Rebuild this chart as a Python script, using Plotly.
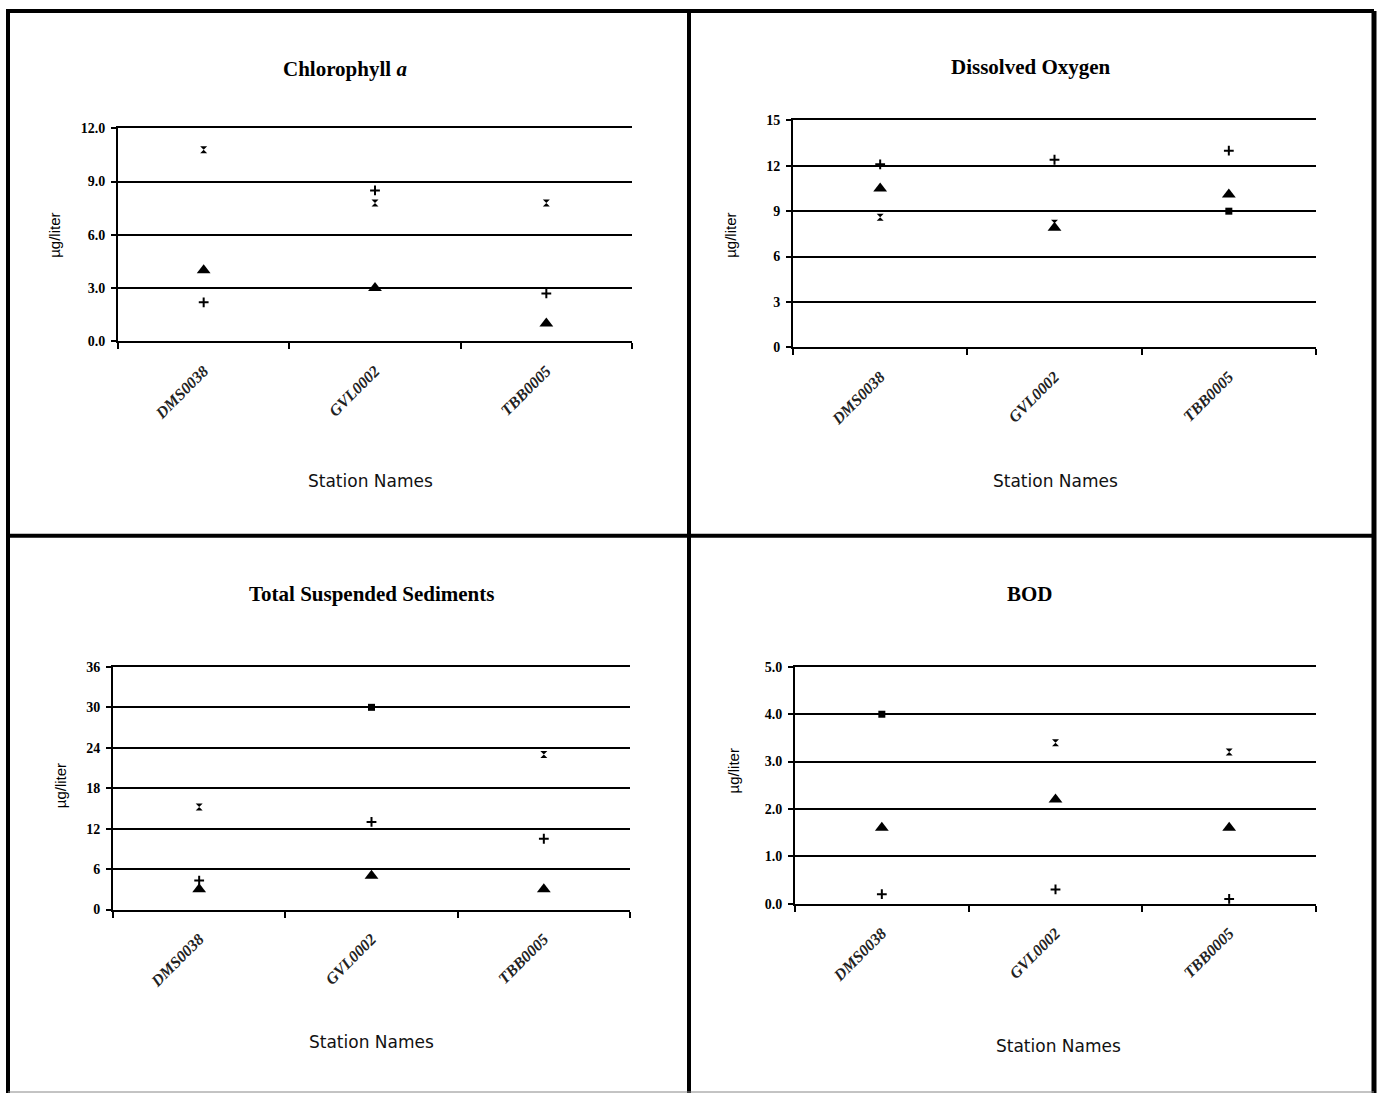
import plotly.graph_objects as go

W, H = 1377, 1101

stations = ["DMS0038", "GVL0002", "TBB0005"]

# Chlorophyll a
chl_plus = [2.2, 8.5, 2.7]
chl_x = [10.8, 7.8, 7.8]
chl_tri = [4.0, 3.0, 1.0]
chl_sq = [None, None, None]
chl_ticks = [0, 3, 6, 9, 12]
chl_ticktext = ["0.0", "3.0", "6.0", "9.0", "12.0"]

# Dissolved Oxygen
do_plus = [12.1, 12.4, 13.0]
do_x = [8.6, 8.2, None]
do_tri = [10.5, 7.9, 10.1]
do_sq = [None, None, 9.0]
do_ticks = [0, 3, 6, 9, 12, 15]
do_ticktext = ["0", "3", "6", "9", "12", "15"]

# Total Suspended Sediments
tss_plus = [4.3, 13.0, 10.5]
tss_x = [15.2, None, 23.0]
tss_tri = [3.0, 5.0, 3.0]
tss_sq = [None, 30.0, None]
tss_ticks = [0, 6, 12, 18, 24, 30, 36]
tss_ticktext = ["0", "6", "12", "18", "24", "30", "36"]

# BOD
bod_plus = [0.2, 0.3, 0.1]
bod_x = [None, 3.4, 3.2]
bod_tri = [1.6, 2.2, 1.6]
bod_sq = [4.0, None, None]
bod_ticks = [0, 1, 2, 3, 4, 5]
bod_ticktext = ["0.0", "1.0", "2.0", "3.0", "4.0", "5.0"]

titles = ["Chlorophyll <i>a</i>", "Dissolved Oxygen", "Total Suspended Sediments", "BOD"]
y_title = "µg/liter"
x_title = "Station Names"


def px(x):
    return x / W


def py(y):
    return 1 - y / H


panels = [
    dict(data=(chl_plus, chl_x, chl_tri, chl_sq), ticks=chl_ticks, ticktext=chl_ticktext,
         box=(118, 632, 123, 339), title_xy=(345, 63), ytitle_xy=(55, 232), xtitle_xy=(370, 481)),
    dict(data=(do_plus, do_x, do_tri, do_sq), ticks=do_ticks, ticktext=do_ticktext,
         box=(793, 1316, 115, 345), title_xy=(1031, 61), ytitle_xy=(731, 232), xtitle_xy=(1055, 481)),
    dict(data=(tss_plus, tss_x, tss_tri, tss_sq), ticks=tss_ticks, ticktext=tss_ticktext,
         box=(113, 630, 669, 915), title_xy=(371, 595), ytitle_xy=(60, 790), xtitle_xy=(371, 1049)),
    dict(data=(bod_plus, bod_x, bod_tri, bod_sq), ticks=bod_ticks, ticktext=bod_ticktext,
         box=(795, 1316, 669, 909), title_xy=(1030, 595), ytitle_xy=(733, 775), xtitle_xy=(1058, 1053)),
]

marker_styles = [
    dict(symbol="cross-thin", size=7, line=dict(color="black", width=2), color="black"),
    dict(symbol="hourglass", size=7, color="black", line=dict(width=0)),
    dict(symbol="triangle-up", size=12, color="black", line=dict(width=0)),
    dict(symbol="square", size=7, color="black", line=dict(width=0)),
]

fig = go.Figure()
layout = dict(
    width=W, height=H, margin=dict(l=0, r=0, t=0, b=0),
    paper_bgcolor="white", plot_bgcolor="white", showlegend=False,
    annotations=[], shapes=[],
)

for i, p in enumerate(panels):
    n = "" if i == 0 else str(i + 1)
    xa, ya = "x" + n, "y" + n
    for vals, ms in zip(p["data"], marker_styles):
        fig.add_trace(go.Scatter(x=stations, y=vals, mode="markers", marker=ms,
                                 xaxis=xa, yaxis=ya, cliponaxis=False, hoverinfo="skip"))
    x0, x1, y0, y1 = p["box"]
    layout["xaxis" + n] = dict(
        domain=[px(x0), px(x1)], anchor=ya, type="category", range=[-0.5, 2.5],
        tickson="boundaries", ticks="outside", ticklen=6, tickwidth=2, tickcolor="black",
        showline=True, mirror=True, linecolor="black", linewidth=2, showgrid=False, zeroline=False,
        tickangle=-45, ticklabelstandoff=12,
        tickfont=dict(family="Liberation Serif", size=16, color="#222", style="italic", weight="bold"),
    )
    layout["yaxis" + n] = dict(
        domain=[py(y1), py(y0)], anchor=xa, range=[p["ticks"][0], p["ticks"][-1]],
        tickvals=p["ticks"], ticktext=p["ticktext"], ticks="outside", ticklen=5, tickwidth=2,
        tickcolor="black", showline=True, linecolor="black", linewidth=2,
        showgrid=True, gridcolor="black", gridwidth=2, zeroline=False, ticklabelstandoff=3,
        tickfont=dict(family="Liberation Serif", size=14, color="black", weight="bold"),
    )
    tx, ty = p["title_xy"]
    layout["annotations"].append(dict(
        text=titles[i], x=px(tx), y=py(ty), xref="paper", yref="paper", showarrow=False,
        xanchor="center", yanchor="middle",
        font=dict(family="Liberation Serif", size=21, color="black", weight="bold")))
    yx, yy = p["ytitle_xy"]
    layout["annotations"].append(dict(
        text=y_title, x=px(yx), y=py(yy), xref="paper", yref="paper", showarrow=False,
        textangle=-90, xanchor="center", yanchor="middle",
        font=dict(family="Liberation Sans", size=15, color="black")))
    xx, xy = p["xtitle_xy"]
    layout["annotations"].append(dict(
        text=x_title, x=px(xx), y=py(xy), xref="paper", yref="paper", showarrow=False,
        xanchor="center", yanchor="middle",
        font=dict(family="DejaVu Sans", size=17, color="#111")))

# panel borders
border = [
    (8, 4, 8, 1101, 4),        # left
    (6, 4, 1374, 4, 4),        # top
    (1374, 4, 1374, 1101, 5),  # right
    (689, 4, 689, 1101, 4),    # vertical divider
    (8, 536, 1374, 536, 4),    # horizontal divider
]
for xa0, ya0, xa1, ya1, w in border:
    layout["shapes"].append(dict(type="line", xref="paper", yref="paper",
                                 x0=px(xa0), y0=py(ya0), x1=px(xa1), y1=py(ya1),
                                 line=dict(color="black", width=w)))
layout["shapes"].append(dict(type="line", xref="paper", yref="paper",
                             x0=px(8), y0=py(1100), x1=px(1374), y1=py(1100),
                             line=dict(color="#888", width=1)))

fig.update_layout(**layout)
fig.write_html(
    "out.html",
    config={"displayModeBar": False},
    post_script="document.body.style.margin='0';document.body.style.overflow='hidden';",
)
